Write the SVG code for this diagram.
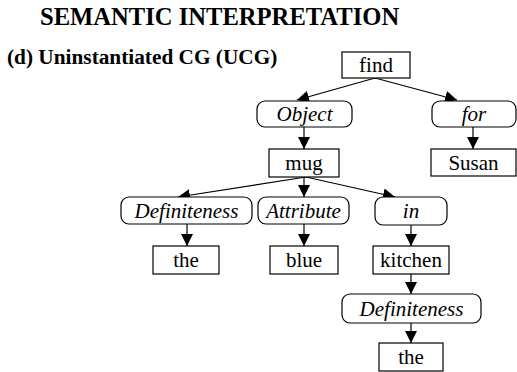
<svg xmlns="http://www.w3.org/2000/svg" width="517" height="372" viewBox="0 0 517 372">
<defs>
<marker id="ah" markerUnits="userSpaceOnUse" markerWidth="12" markerHeight="12" viewBox="0 0 12 12" refX="12" refY="6" orient="auto">
<path d="M0,0 L12,6 L0,12 Z" fill="#000"/>
</marker>
<style>
text{font-family:"Liberation Serif","Times New Roman",serif;fill:#000}
.t{font-size:24.6px;font-weight:bold}
.s{font-size:21.3px;font-weight:bold}
.n{font-size:21px;text-anchor:middle}
.r{font-size:21px;text-anchor:middle;font-style:italic}
.box{fill:#fff;stroke:#000;stroke-width:1.2}
.c line{stroke:#000;stroke-width:1.2;marker-end:url(#ah)}
</style>
</defs>
<rect width="517" height="372" fill="#fff"/>
<text class="t" x="40" y="25">SEMANTIC INTERPRETATION</text>
<text class="s" x="7" y="64">(d) Uninstantiated CG (UCG)</text>
<g class="c" id="connectors">
<line x1="375" y1="78" x2="297" y2="100"/>
<line x1="375" y1="78" x2="457" y2="100"/>
<line x1="304" y1="127" x2="304" y2="149"/>
<line x1="473" y1="127" x2="473" y2="149"/>
<line x1="306" y1="177" x2="178" y2="197"/>
<line x1="304" y1="177" x2="304" y2="197"/>
<line x1="306" y1="177" x2="395" y2="197"/>
<line x1="187" y1="224" x2="187" y2="246"/>
<line x1="304" y1="224" x2="304" y2="246"/>
<line x1="411" y1="225" x2="411" y2="246"/>
<line x1="411" y1="274" x2="411" y2="294"/>
<line x1="411" y1="323" x2="411" y2="343"/>
</g>
<g id="find"><rect class="box" x="342" y="52" width="68" height="26"/><text class="n" x="376" y="72">find</text></g>
<g id="object"><rect class="box" x="257" y="101" width="95" height="26" rx="8"/><text class="r" x="304.5" y="121">Object</text></g>
<g id="for"><rect class="box" x="432" y="101" width="84" height="26" rx="8"/><text class="r" x="474" y="121">for</text></g>
<g id="mug"><rect class="box" x="269" y="149" width="70" height="28"/><text class="n" x="304" y="170">mug</text></g>
<g id="susan"><rect class="box" x="431" y="149" width="85" height="27"/><text class="n" x="473.5" y="170">Susan</text></g>
<g id="definiteness1"><rect class="box" x="121" y="197" width="131" height="27" rx="8"/><text class="r" x="186.5" y="218">Definiteness</text></g>
<g id="attribute"><rect class="box" x="258" y="197" width="91" height="27" rx="8"/><text class="r" x="303.5" y="218">Attribute</text></g>
<g id="in"><rect class="box" x="375" y="197" width="72" height="28" rx="8"/><text class="r" x="411" y="218">in</text></g>
<g id="the1"><rect class="box" x="153" y="246" width="66" height="28"/><text class="n" x="186" y="267">the</text></g>
<g id="blue"><rect class="box" x="270" y="246" width="68" height="28"/><text class="n" x="304" y="267">blue</text></g>
<g id="kitchen"><rect class="box" x="373" y="246" width="76" height="28"/><text class="n" x="411" y="267">kitchen</text></g>
<g id="definiteness2"><rect class="box" x="342" y="294" width="139" height="29" rx="8"/><text class="r" x="411.5" y="316">Definiteness</text></g>
<g id="the2"><rect class="box" x="379" y="343" width="64" height="28"/><text class="n" x="411" y="364">the</text></g>
</svg>
